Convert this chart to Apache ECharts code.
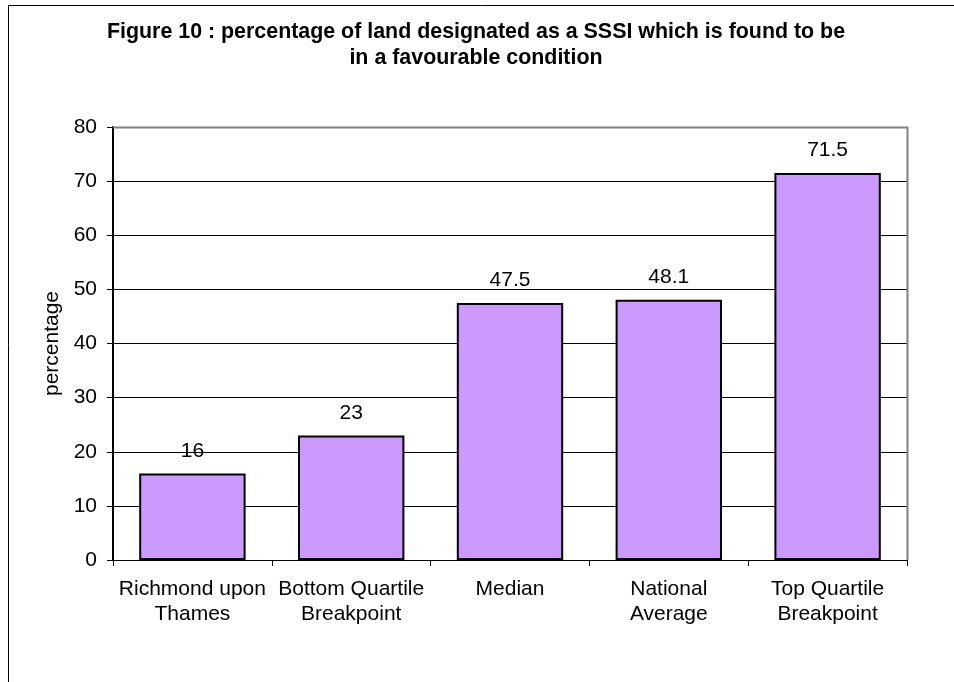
<!DOCTYPE html>
<html>
<head>
<meta charset="utf-8">
<script src="https://cdn.jsdelivr.net/npm/echarts@6/dist/echarts.min.js"></script>
<style>
  html, body { margin: 0; padding: 0; background: #fff; }
  #chart { width: 954px; height: 682px; }
</style>
</head>
<body>
<div id="chart"></div>
<script>
// SSSI condition data
const categories = ['Richmond upon\nThames', 'Bottom Quartile\nBreakpoint', 'Median', 'National\nAverage', 'Top Quartile\nBreakpoint'];
const favourablePct = [16, 23, 47.5, 48.1, 71.5];
const yTicks = [0, 10, 20, 30, 40, 50, 60, 70, 80];

const FONT = '"Liberation Sans", Arial, sans-serif';
const chart = echarts.init(document.getElementById('chart'), null, { renderer: 'canvas' });

chart.setOption({
  animation: false,
  backgroundColor: '#ffffff',
  textStyle: { fontFamily: FONT },
  title: {
    text: 'Figure 10 : percentage of land designated as a SSSI which is found to be\nin a favourable condition',
    left: 471,
    top: 14,
    textAlign: 'center',
    textStyle: { fontFamily: FONT, fontSize: 21.4, fontWeight: 'bold', color: '#000', lineHeight: 26 }
  },
  graphic: [
    // outer chart frame (runs off the right and bottom of the page)
    { type: 'rect', shape: { x: 8.5, y: 5.5, width: 960, height: 700 },
      style: { fill: 'none', stroke: '#000', lineWidth: 1 }, silent: true },
    // plot area frame: grey top and right edges
    { type: 'polyline', shape: { points: [[113, 127.5], [907.5, 127.5], [907.5, 560]] },
      style: { fill: 'none', stroke: '#808080', lineWidth: 2 }, silent: true, z: 1 }
  ],
  grid: { left: 113, right: 954 - 907, top: 127, bottom: 682 - 560, containLabel: false },
  xAxis: {
    type: 'category',
    data: categories,
    axisLine: { show: true, lineStyle: { color: '#000', width: 1 } },
    axisTick: { show: true, alignWithLabel: false, length: 6, lineStyle: { color: '#000' } },
    axisLabel: { color: '#000', fontSize: 21, fontFamily: FONT, lineHeight: 25, margin: 17, interval: 0 },
    splitLine: { show: false }
  },
  yAxis: {
    type: 'value',
    min: yTicks[0],
    max: yTicks[yTicks.length - 1],
    interval: 10,
    name: 'percentage',
    nameLocation: 'middle',
    nameGap: 49,
    nameRotate: 90,
    nameTextStyle: { color: '#000', fontSize: 21, fontFamily: FONT },
    axisLine: { show: true, lineStyle: { color: '#000', width: 2 } },
    axisTick: { show: true, length: 6, lineStyle: { color: '#000' } },
    axisLabel: { color: '#000', fontSize: 21, fontFamily: FONT, margin: 16 },
    splitLine: { show: true, lineStyle: { color: '#000', width: 1 } }
  },
  series: [{
    type: 'bar',
    data: favourablePct,
    barCategoryGap: '33%',
    itemStyle: { color: '#CC99FF', borderColor: '#000', borderWidth: 2 },
    label: {
      show: true, position: 'top', distance: 12,
      color: '#000', fontSize: 21, fontFamily: FONT
    },
    z: 3
  }]
});
</script>
</body>
</html>
